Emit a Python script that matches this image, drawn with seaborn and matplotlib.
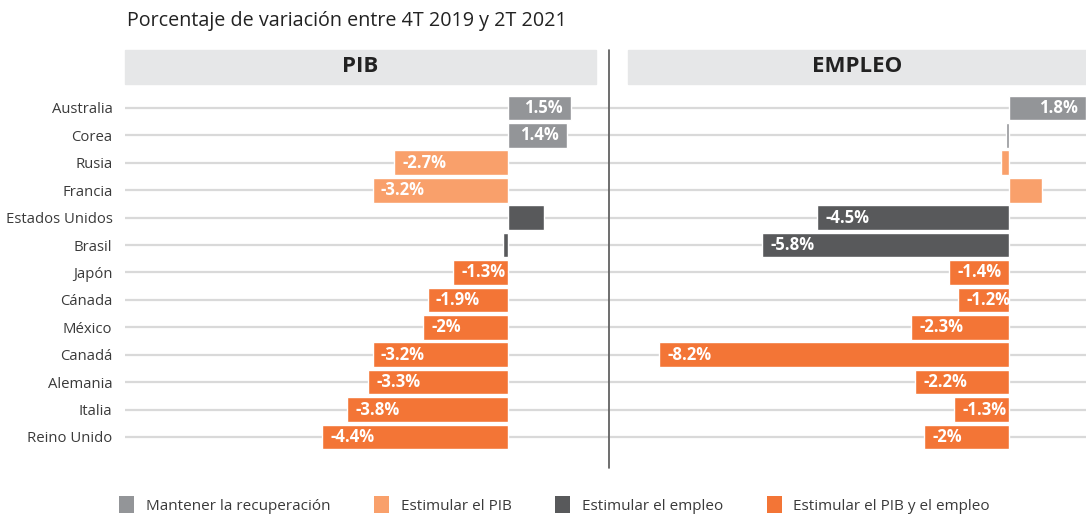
import matplotlib
matplotlib.use("Agg")
import matplotlib.pyplot as plt
import seaborn as sns
import pandas as pd
from matplotlib.patches import Patch, Rectangle
from matplotlib.lines import Line2D

# Data (% change between 4T 2019 and 2T 2021)
countries = ["Australia", "Corea", "Rusia", "Francia", "Estados Unidos", "Brasil",
             "Japón", "Cánada", "México", "Canadá", "Alemania", "Italia", "Reino Unido"]
groups = ["Mantener la recuperación", "Mantener la recuperación", "Estimular el PIB",
          "Estimular el PIB", "Estimular el empleo", "Estimular el empleo"] + ["Estimular el PIB y el empleo"] * 7
pib = [1.5, 1.4, -2.7, -3.2, 0.85, -0.12, -1.3, -1.9, -2.0, -3.2, -3.3, -3.8, -4.4]
pib_labels = ["1.5%", "1.4%", "-2.7%", "-3.2%", None, None, "-1.3%", "-1.9%", "-2%",
              "-3.2%", "-3.3%", "-3.8%", "-4.4%"]
empleo = [1.8, -0.07, -0.19, 0.78, -4.5, -5.8, -1.4, -1.2, -2.3, -8.2, -2.2, -1.3, -2.0]
empleo_labels = ["1.8%", None, None, None, "-4.5%", "-5.8%", "-1.4%", "-1.2%", "-2.3%",
                 "-8.2%", "-2.2%", "-1.3%", "-2%"]

group_order = ["Mantener la recuperación", "Estimular el PIB", "Estimular el empleo",
               "Estimular el PIB y el empleo"]
palette = {"Mantener la recuperación": "#939598", "Estimular el PIB": "#f9a06b",
           "Estimular el empleo": "#58595b", "Estimular el PIB y el empleo": "#f37536"}

sns.set_theme(style="white")
plt.rcParams["font.family"] = ["Open Sans", "DejaVu Sans"]

df = pd.DataFrame({"pais": countries, "grupo": groups, "pib": pib, "empleo": empleo})

fig = plt.figure(figsize=(10.86, 5.16), dpi=100)
ax_pib = fig.add_axes([0.1151, 0.1266, 0.4457, 0.6907])
ax_emp = fig.add_axes([0.5617, 0.1266, 0.4383, 0.6907])


def draw_panel(ax, col, labels, xlim):
    sns.barplot(data=df, x=col, y="pais", hue="grupo", hue_order=group_order,
                palette=palette, dodge=False, width=0.9, orient="h",
                saturation=1, legend=False, ax=ax)
    ax.set_xlim(*xlim)
    ax.set_ylim(len(countries) - 0.5, -0.5)
    ax.set_xlabel("")
    ax.set_ylabel("")
    ax.set_xticks([])
    ax.yaxis.grid(True, color="#d9d9d9", lw=1.6)
    ax.set_axisbelow(True)
    for s in ax.spines.values():
        s.set_visible(False)
    ax.tick_params(axis="y", length=0, pad=9, labelsize=10.7, labelcolor="#3a3a3a")
    pad = 0.2
    for i, (v, lab) in enumerate(zip(df[col], labels)):
        if lab is None:
            continue
        if v < 0:
            ax.text(v + pad, i, lab, ha="left", va="center", color="white",
                    fontsize=12, fontweight="bold")
        else:
            ax.text(v - pad, i, lab, ha="right", va="center", color="white",
                    fontsize=12, fontweight="bold")


draw_panel(ax_pib, "pib", pib_labels, (-9.05, 2.39))
draw_panel(ax_emp, "empleo", empleo_labels, (-9.35, 1.8))
ax_emp.set_yticklabels([])

# Title
fig.text(127 / 1086, 1 - 21 / 516, "Porcentaje de variación entre 4T 2019 y 2T 2021",
         ha="left", va="center", fontsize=14.2, color="#222222")

# Panel header boxes
for x0, x1, name in [(125, 596, "PIB"), (628, 1086, "EMPLEO")]:
    fig.patches.append(Rectangle((x0 / 1086, 1 - 84 / 516), (x1 - x0) / 1086, 34 / 516,
                                 transform=fig.transFigure, color="#e6e7e8", zorder=0))
    fig.text((x0 + x1) / 2 / 1086, 1 - 67 / 516, name, ha="center", va="center",
             fontsize=16, fontweight="bold", color="#222222")

# Vertical divider
fig.add_artist(Line2D([609 / 1086, 609 / 1086], [1 - 50 / 516, 1 - 468 / 516],
                      transform=fig.transFigure, color="#555555", lw=1.2))

handles = [Patch(facecolor=palette[g], edgecolor="none") for g in group_order]
fig.legend(handles, group_order, loc="center left", bbox_to_anchor=(0.097, 1 - 505 / 516),
           ncol=4, frameon=False, fontsize=11, handlelength=1.0, handleheight=1.3,
           handletextpad=0.75, columnspacing=2.85, labelcolor="#3a3a3a")

fig.savefig("out.png", dpi=100)
